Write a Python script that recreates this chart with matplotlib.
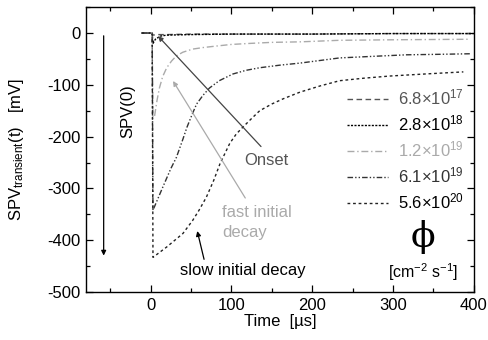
import matplotlib
matplotlib.use("Agg")
import matplotlib.pyplot as plt
from matplotlib.ticker import MultipleLocator

plt.rcParams['font.family'] = ['Liberation Sans', 'DejaVu Sans']
plt.rcParams['mathtext.fontset'] = 'custom'
plt.rcParams['mathtext.rm'] = 'Liberation Sans'
plt.rcParams['mathtext.it'] = 'Liberation Sans:italic'
plt.rcParams['mathtext.bf'] = 'Liberation Sans:bold'
plt.rcParams['axes.unicode_minus'] = False

# ---- data ----
flux_labels = [r'6.8$\times$10$^{17}$', r'2.8$\times$10$^{18}$', r'1.2$\times$10$^{19}$',
               r'6.1$\times$10$^{19}$', r'5.6$\times$10$^{20}$']

t_a = [-11, 2, 3, 8, 20, 50, 100, 200, 300, 400]
v_a = [0, 0, -4, -3, -3, -2, -2, -2, -1, -1]

t_b = [-11, 2, 3, 6, 12, 20, 50, 100, 200, 300, 400]
v_b = [0, 0, -20, -12, -6, -4, -3, -2, -2, -1, -1]

t_c = [-11, 2, 3, 5, 8, 11, 15, 20, 26, 32, 40, 52, 65, 82, 100, 123, 150, 185, 234, 300, 395]
v_c = [0, 0, -163, -160, -130, -106, -84, -67, -54, -44, -37, -31, -28, -25, -22, -20, -18, -17, -14, -13, -12]

t_d = [-11, 2, 3, 15, 25, 32, 40, 45, 52, 57, 65, 73, 85, 102, 118, 135, 160, 185, 234, 275, 317, 360, 395]
v_d = [0, 0, -342, -298, -262, -240, -205, -182, -155, -137, -120, -106, -92, -79, -72, -67, -62, -58, -48, -45, -42, -41, -40]

t_e = [-11, 2, 3, 20, 40, 52, 60, 69, 78, 86, 98, 106, 114, 125, 135, 150, 164, 185, 210, 234, 265, 296, 340, 387]
v_e = [0, 0, -433, -413, -387, -362, -342, -317, -285, -252, -213, -195, -182, -165, -150, -137, -127, -114, -102, -92, -87, -83, -79, -75]

series_t = [t_a, t_b, t_c, t_d, t_e]
series_v = [v_a, v_b, v_c, v_d, v_e]

styles = [(0, (4, 2.5)), (0, (1.5, 1)), (0, (5, 2, 1, 2)), (0, (4, 1.5, 1, 1.5, 1, 1.5)), (0, (2, 2))]
colors = ['#555555', '#000000', '#aaaaaa', '#333333', '#222222']
text_colors = ['#555555', '#000000', '#aaaaaa', '#333333', '#000000']

fig = plt.figure(figsize=(4.88, 3.40), dpi=100)
ax = fig.add_axes([0.176, 0.141, 0.795, 0.838])

for t, v, ls, c, lab in zip(series_t, series_v, styles, colors, flux_labels):
    ax.plot(t, v, linestyle=ls, color=c, lw=1.0, label=lab)

ax.set_xlim(-80, 400)
ax.set_ylim(-500, 50)
ax.xaxis.set_major_locator(MultipleLocator(100))
ax.xaxis.set_minor_locator(MultipleLocator(50))
ax.yaxis.set_major_locator(MultipleLocator(100))
ax.yaxis.set_minor_locator(MultipleLocator(50))
ax.tick_params(which='both', direction='in', top=True, right=True, labelsize=12)
ax.tick_params(which='major', length=5, width=0.9, pad=4)
ax.tick_params(which='minor', length=3, width=0.9)
for s in ax.spines.values():
    s.set_linewidth(1.0)

ax.set_xlabel('Time  [µs]', fontsize=12, labelpad=1)
ax.set_ylabel(r'SPV$_{\mathrm{transient}}$(t)   [mV]', fontsize=12)
ax.yaxis.set_label_coords(-0.155, 0.5)

leg = ax.legend(loc='upper left', bbox_to_anchor=(0.655, 0.74), frameon=False,
                handlelength=2.5, handletextpad=0.55, labelspacing=0.36, fontsize=12,
                borderaxespad=0)
for txt, c in zip(leg.get_texts(), text_colors):
    txt.set_color(c)

ax.text(337, -394, 'ϕ', fontsize=26, family='DejaVu Serif', ha='center', va='center')
ax.text(337, -461, r'[cm$^{-2}$ s$^{-1}$]', fontsize=11.5, ha='center', va='center')

# SPV(0) arrow
ax.annotate('', xy=(-58, -435), xytext=(-58, 0),
            arrowprops=dict(arrowstyle='-|>', color='black', lw=0.9, mutation_scale=7))
ax.text(-28, -150, 'SPV(0)', rotation=90, fontsize=12, ha='center', va='center')

# Onset
ax.annotate('', xy=(7, -2), xytext=(139, -223),
            arrowprops=dict(arrowstyle='-|>', color='#444444', lw=0.9, mutation_scale=7))
ax.text(143, -246, 'Onset', fontsize=12, color='#555555', ha='center', va='center')

# fast initial decay
ax.annotate('', xy=(26, -88), xytext=(119, -323),
            arrowprops=dict(arrowstyle='-|>', color='#aaaaaa', lw=0.9, mutation_scale=7))
ax.text(89, -346, 'fast initial', fontsize=12, color='#aaaaaa', ha='left', va='center')
ax.text(89, -385, 'decay', fontsize=12, color='#aaaaaa', ha='left', va='center')

# slow initial decay
ax.annotate('', xy=(57, -377), xytext=(67, -442),
            arrowprops=dict(arrowstyle='-|>', color='black', lw=0.9, mutation_scale=7))
ax.text(36, -458, 'slow initial decay', fontsize=12, color='black', ha='left', va='center')

fig.savefig('out.png', dpi=100)
